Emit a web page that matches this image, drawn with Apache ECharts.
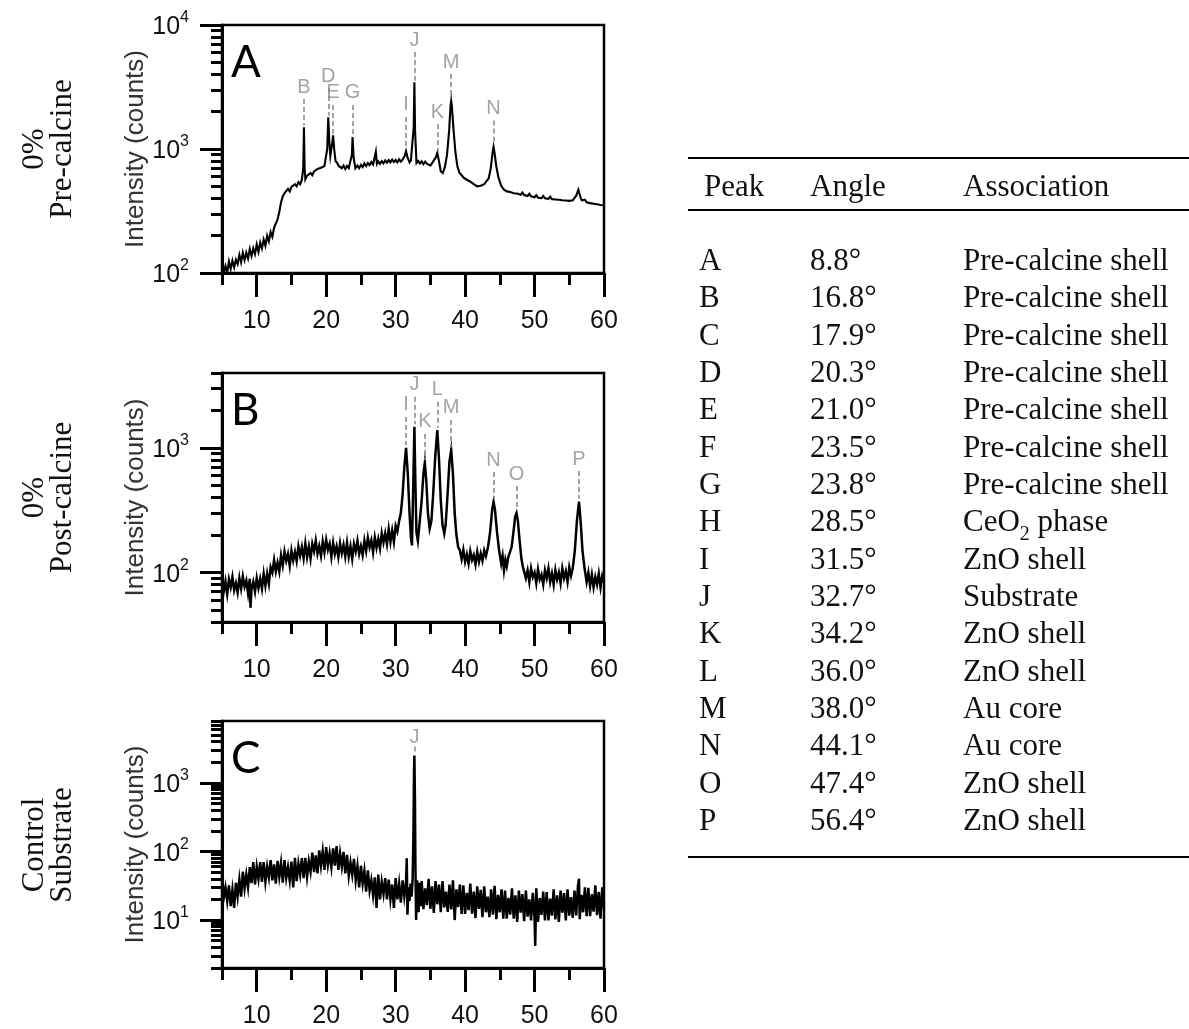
<!DOCTYPE html>
<html><head><meta charset="utf-8">
<script src="https://cdn.jsdelivr.net/npm/echarts@6/dist/echarts.min.js"></script>
<style>html,body{margin:0;padding:0;background:#fff}#c{width:1189px;height:1029px}</style>
</head><body><div id="c"></div>
<script>
// ---------- tick values ----------
const angleTicksMajor = [10, 20, 30, 40, 50, 60];
const angleTicksMinor = [5, 15, 25, 35, 45, 55];
const rangeA = [100, 10000];
const decadesA = [100, 1000, 10000];
const minorA = [200, 300, 400, 500, 600, 700, 800, 900, 2000, 3000, 4000, 5000, 6000, 7000, 8000, 9000];
const rangeB = [40, 4000];
const decadesB = [100, 1000];
const minorB = [40, 50, 60, 70, 80, 90, 200, 300, 400, 500, 600, 700, 800, 900, 2000, 3000, 4000];
const rangeC = [2, 8000];
const decadesC = [10, 100, 1000];
const minorC = [2, 3, 4, 5, 6, 7, 8, 9, 20, 30, 40, 50, 60, 70, 80, 90, 200, 300, 400, 500, 600, 700, 800, 900, 2000, 3000, 4000, 5000, 6000, 7000, 8000];

// ---------- panel A : 0% pre-calcine ----------
const dataA = [[5,112],[5.25,100],[5.5,114],[5.75,101],[6,124],[6.25,108],[6.5,126],[6.75,111],[7,128],[7.25,118],[7.5,140],[7.75,122],[8,146],[8.25,127],[8.5,146],[8.75,131],[9,156],[9.25,137],[9.5,158],[9.75,142],[10,170],[10.25,148],[10.5,176],[10.75,158],[11,186],[11.25,166],[11.5,200],[11.75,180],[12,214],[12.25,196],[12.5,232],[12.75,236],[13,270],[13.25,310],[13.5,372],[13.75,415],[14,440],[14.25,430],[14.5,478],[14.75,455],[15,495],[15.25,480],[15.5,520],[15.75,500],[16,540],[16.25,520],[16.5,565],[16.7,700],[16.8,1500],[16.9,700],[17,570],[17.25,610],[17.5,595],[17.75,640],[18,615],[18.25,660],[18.5,640],[18.75,690],[19,665],[19.25,705],[19.5,690],[19.75,730],[20,710],[20.15,1000],[20.3,1800],[20.45,1150],[20.6,880],[20.75,900],[20.9,1150],[21,1290],[21.15,1000],[21.35,800],[21.6,770],[21.8,730],[22,750],[22.25,700],[22.5,735],[22.75,690],[23,730],[23.25,700],[23.5,715],[23.7,900],[23.8,1250],[23.95,850],[24.2,700],[24.5,735],[24.75,700],[25,745],[25.25,715],[25.5,765],[25.75,730],[26,770],[26.25,740],[26.5,785],[26.75,750],[27,775],[27.15,950],[27.3,760],[27.5,795],[27.75,760],[28,800],[28.25,765],[28.5,810],[28.75,775],[29,815],[29.25,780],[29.5,820],[29.75,785],[30,815],[30.25,780],[30.5,825],[30.75,790],[31,820],[31.3,880],[31.5,960],[31.7,860],[32,780],[32.2,810],[32.4,790],[32.6,1500],[32.7,3450],[32.8,1400],[33,770],[33.25,800],[33.5,765],[33.75,795],[34,755],[34.25,790],[34.5,760],[34.75,775],[35,735],[35.25,770],[35.5,750],[35.8,860],[36,930],[36.2,820],[36.5,660],[36.8,640],[37.1,720],[37.4,900],[37.7,1400],[37.9,2200],[38,2450],[38.1,2200],[38.35,1400],[38.6,950],[38.9,720],[39.2,640],[39.5,615],[39.75,590],[40,575],[40.25,565],[40.5,555],[40.75,545],[41,530],[41.25,520],[41.5,525],[41.75,500],[42,495],[42.25,505],[42.5,500],[42.75,520],[43,520],[43.4,580],[43.7,700],[43.95,930],[44.1,1040],[44.25,920],[44.5,720],[44.8,590],[45.2,505],[45.6,470],[46,455],[46.25,470],[46.5,450],[46.75,462],[47,440],[47.25,455],[47.5,438],[47.75,450],[48,428],[48.25,445],[48.5,425],[48.75,440],[49,418],[49.25,435],[49.5,415],[49.75,430],[50,408],[50.25,424],[50.5,405],[50.75,420],[51,402],[51.25,418],[51.5,400],[51.75,414],[52,396],[52.25,412],[52.5,394],[52.75,408],[53,392],[53.25,406],[53.5,390],[53.75,402],[54,386],[54.25,400],[54.5,384],[54.75,396],[55,382],[55.25,394],[55.5,386],[55.75,400],[56,420],[56.3,470],[56.6,410],[56.8,385],[57,376],[57.25,390],[57.5,372],[57.75,384],[58,366],[58.25,378],[58.5,362],[58.75,374],[59,358],[59.25,370],[59.5,354],[59.75,366],[60,352]];
const peakLetterA = ['B','D','E','G','I','J','K','M','N'];
const peakAngleA = [16.8, 20.3, 21.0, 23.8, 31.5, 32.7, 36.0, 38.0, 44.1];
const peakLabelA = [3160, 3880, 2830, 2830, 2265, 7570, 1986, 5030, 2130];
const peakDashFromA = [2530, 3100, 2260, 2260, 1810, 6060, 1590, 4020, 1700];
const peakDashToA = [1550, 1850, 1330, 1300, 1000, 3550, 960, 2550, 1080];

// ---------- panel B : 0% post-calcine ----------
const dataB = [[5,91],[5.25,70],[5.5,85],[5.75,67],[6,88],[6.25,76],[6.5,92],[6.75,72],[7,82],[7.25,69],[7.5,90],[7.75,74],[8,93],[8.25,77],[8.5,86],[8.75,68],[9,89],[9.1,52],[9.25,73],[9.5,84],[9.75,70],[10,90],[10.25,75],[10.5,89],[10.75,74],[11,98],[11.25,78],[11.5,98],[11.75,81],[12,110],[12.25,100],[12.5,126],[12.75,102],[13,120],[13.25,102],[13.5,137],[13.75,114],[14,147],[14.25,124],[14.5,141],[14.75,113],[15,150],[15.25,125],[15.5,146],[15.75,123],[16,162],[16.25,136],[16.5,160],[16.75,130],[17,171],[17.25,133],[17.5,161],[17.75,129],[18,170],[18.25,148],[18.5,180],[18.75,141],[19,163],[19.25,136],[19.5,177],[19.75,145],[20,183],[20.25,152],[20.5,170],[20.75,133],[21,173],[21.25,141],[21.5,162],[21.75,133],[22,172],[22.25,143],[22.5,166],[22.75,134],[23,173],[23.25,134],[23.5,162],[23.75,129],[24,169],[24.25,147],[24.5,179],[24.75,141],[25,163],[25.25,138],[25.5,180],[25.75,149],[26,190],[26.25,159],[26.5,181],[26.75,145],[27,191],[27.25,158],[27.5,186],[27.75,156],[28,206],[28.25,174],[28.5,206],[28.75,169],[29,223],[29.25,176],[29.5,217],[29.75,176],[30,237],[30.25,214],[30.5,259],[30.75,300],[31,420],[31.25,700],[31.5,1000],[31.75,620],[32,300],[32.2,190],[32.35,165],[32.5,400],[32.7,1480],[32.85,500],[33,210],[33.2,180],[33.45,250],[33.75,380],[34,620],[34.2,760],[34.4,560],[34.65,300],[34.9,225],[35.15,260],[35.4,420],[35.7,850],[36,1390],[36.25,800],[36.5,380],[36.75,240],[37,205],[37.2,240],[37.45,400],[37.75,780],[38,960],[38.25,620],[38.5,300],[38.75,200],[39,160],[39.25,150],[39.5,128],[39.75,152],[40,122],[40.25,140],[40.5,118],[40.75,148],[41,126],[41.25,138],[41.5,116],[41.75,146],[42,122],[42.25,142],[42.5,124],[42.75,150],[43,135],[43.3,160],[43.6,210],[43.9,320],[44.1,370],[44.3,320],[44.6,210],[44.9,150],[45.2,118],[45.4,136],[45.6,104],[45.8,126],[46,112],[46.2,132],[46.45,128],[46.7,160],[47,220],[47.2,280],[47.4,300],[47.6,260],[47.85,180],[48.1,130],[48.3,112],[48.5,110],[48.75,90],[49,104],[49.25,84],[49.5,108],[49.75,92],[50,100],[50.25,82],[50.5,106],[50.75,88],[51,96],[51.25,80],[51.5,104],[51.75,90],[52,108],[52.25,84],[52.5,98],[52.75,80],[53,105],[53.25,88],[53.5,100],[53.75,82],[54,108],[54.25,90],[54.5,102],[54.75,84],[55,110],[55.25,94],[55.5,108],[55.8,150],[56.1,260],[56.4,370],[56.65,250],[56.9,150],[57.2,108],[57.5,84],[57.75,100],[58,78],[58.25,96],[58.5,76],[58.75,92],[59,80],[59.25,98],[59.5,76],[59.75,94],[60,84]];
const peakLetterB = ['I','J','K','L','M','N','O','P'];
const peakAngleB = [31.5, 32.7, 34.2, 36.0, 38.0, 44.1, 47.4, 56.4];
const peakLabelB = [2220, 3220, 1620, 2940, 2100, 800, 617, 815];
const peakDashFromB = [1776, 2576, 1296, 2350, 1680, 640, 494, 652];
const peakDashToB = [1050, 1550, 800, 1450, 1010, 390, 315, 390];

// ---------- panel C : control substrate ----------
const dataC = [[5,46],[5.25,21],[5.5,30],[5.75,19],[6,32],[6.25,16],[6.5,27.5],[6.75,15],[7,35],[7.25,22],[7.5,39],[7.75,22],[8,51],[8.25,29],[8.5,46],[8.75,30],[9,59],[9.25,34.5],[9.5,70],[9.75,33],[10,60],[10.25,40],[10.5,70],[10.75,36],[11,70],[11.25,36],[11.5,60],[11.75,42],[12,75],[12.25,38],[12.5,65],[12.75,34],[13,73],[13.25,43],[13.5,68],[13.75,35],[14,75],[14.25,41],[14.5,59],[14.75,38],[15,71],[15.25,30],[15.5,81],[15.75,37],[16,67],[16.25,46],[16.5,80],[16.75,41],[17,81],[17.25,43],[17.5,72],[17.75,51],[18,96],[18.25,50],[18.5,88],[18.75,48],[19,104],[19.25,62],[19.5,101],[19.75,54],[20,116],[20.25,64],[20.5,94],[20.75,59],[21,111],[21.25,62],[21.5,120],[21.75,54],[22,94],[22.25,60],[22.5,99],[22.75,48],[23,89],[23.25,44],[23.5,69],[23.75,46],[24,78],[24.25,38],[24.5,61],[24.75,30],[25,62],[25.25,34],[25.5,52],[25.75,26],[26,53],[26.25,27],[26.5,38],[26.75,23],[27,42],[27.25,15],[27.5,46],[27.75,20],[28,36],[28.25,24],[28.5,41],[28.75,20],[29,39],[29.25,20],[29.5,33],[29.75,15],[30,41],[30.25,20],[30.5,34],[30.75,18],[31,38],[31.25,22],[31.5,36],[31.6,80],[31.7,12],[31.85,30],[32,19],[32.15,34],[32.3,22],[32.45,40],[32.55,150],[32.65,1500],[32.7,2500],[32.78,600],[32.85,60],[32.95,10],[33.1,38],[33.3,13],[33.45,35],[33.6,16],[33.75,37],[34,14.4],[34.25,29],[34.5,16.5],[34.75,40],[35,14.6],[35.25,31],[35.5,12.7],[35.75,37],[36,17],[36.25,33],[36.5,13],[36.75,37],[37,15.3],[37.25,26],[37.5,13.2],[37.75,33],[38,14.3],[38.25,38],[38.5,10],[38.75,28],[39,15.5],[39.25,33],[39.5,12.3],[39.75,32],[40,12.3],[40.25,25],[40.5,14],[40.75,34],[41,12.4],[41.25,26],[41.5,10.7],[41.75,31],[42,14.6],[42.25,27.5],[42.5,11],[42.75,31],[43,13],[43.25,22],[43.5,11],[43.75,28],[44,12],[44.25,31.5],[44.5,10.3],[44.75,23.4],[45,13],[45.25,28],[45.5,10.5],[45.75,27],[46,10.5],[46.25,21],[46.5,12],[46.75,29],[47,10.5],[47.25,23],[47.5,9.4],[47.75,27],[48,12.8],[48.25,24],[48.5,9.6],[48.75,27],[49,11.2],[49.25,20],[49.5,9.9],[49.75,25],[50,10.7],[50.1,4.2],[50.25,29],[50.5,9.4],[50.75,21],[51,11.9],[51.25,26],[51.5,9.9],[51.75,25.6],[52,9.9],[52.25,20.6],[52.5,11.6],[52.75,28],[53,10.2],[53.25,23],[53.5,9.4],[53.75,27],[54,12.8],[54.25,24.7],[54.5,9.9],[54.75,28],[55,11.6],[55.25,21.6],[55.5,10.8],[55.75,27],[56,11.7],[56.25,31.5],[56.4,40],[56.5,10.3],[56.75,23.4],[57,13],[57.25,30],[57.5,11.4],[57.75,29.5],[58,11.4],[58.25,23.8],[58.5,13.3],[58.75,32],[59,11.8],[59.25,25.7],[59.5,10.5],[59.75,30],[60,14.3]];
const peakLetterC = ['J'];
const peakAngleC = [32.7];
const peakLabelC = [4600];
const peakDashFromC = [3400];
const peakDashToC = [2700];

// ---------- labels & table ----------
const panelLetters = ['A', 'B', 'C'];
const rowLabels = ['0%\nPre-calcine', '0%\nPost-calcine', 'Control\nSubstrate'];
const yAxisTitle = 'Intensity (counts)';
const tableHeader = ['Peak', 'Angle', 'Association'];
const tablePeak = ['A','B','C','D','E','F','G','H','I','J','K','L','M','N','O','P'];
const tableAngle = ['8.8°','16.8°','17.9°','20.3°','21.0°','23.5°','23.8°','28.5°','31.5°','32.7°','34.2°','36.0°','38.0°','44.1°','47.4°','56.4°'];
const tableAssoc = ['Pre-calcine shell','Pre-calcine shell','Pre-calcine shell','Pre-calcine shell','Pre-calcine shell','Pre-calcine shell','Pre-calcine shell','CeO{sub|2} phase','ZnO shell','Substrate','ZnO shell','ZnO shell','Au core','Au core','ZnO shell','ZnO shell'];

// ---------- build ----------
const SANS = 'Liberation Sans, Arial, sans-serif';
const SERIF = '"Liberation Serif", "Times New Roman", serif';
const panels = [
  {data: dataA, range: rangeA, major: decadesA, minor: minorA, L: peakLetterA, X: peakAngleA, Y: peakLabelA, F: peakDashFromA, T: peakDashToA, top: 25, h: 248, lw: 2.1},
  {data: dataB, range: rangeB, major: decadesB, minor: minorB, L: peakLetterB, X: peakAngleB, Y: peakLabelB, F: peakDashFromB, T: peakDashToB, top: 373, h: 249, lw: 2.5},
  {data: dataC, range: rangeC, major: decadesC, minor: minorC, L: peakLetterC, X: peakAngleC, Y: peakLabelC, F: peakDashFromC, T: peakDashToC, top: 721, h: 248, lw: 2.5}
];
const axisLineStyle = {color: '#000', width: 3};
const tickStyle = {color: '#000', width: 3};
const grid = [], xAxis = [], yAxis = [], series = [], graphic = [];
panels.forEach((p, i) => {
  grid.push({left: 222, top: p.top, width: 382, height: p.h, show: true, borderColor: '#000', borderWidth: 2.5, backgroundColor: 'transparent'});
  xAxis.push({gridIndex: i, type: 'value', position: 'bottom', min: 5, max: 60,
    axisLine: {show: true, onZero: false, lineStyle: axisLineStyle},
    axisTick: {show: true, customValues: angleTicksMajor, length: 24, lineStyle: tickStyle},
    axisLabel: {show: true, customValues: angleTicksMajor, margin: 36, fontSize: 25, color: '#111', fontFamily: SANS},
    splitLine: {show: false}});
  xAxis.push({gridIndex: i, type: 'value', position: 'bottom', min: 5, max: 60,
    axisLine: {show: false, onZero: false},
    axisTick: {show: true, customValues: angleTicksMinor, length: 12, lineStyle: tickStyle},
    axisLabel: {show: false}, splitLine: {show: false}});
  yAxis.push({gridIndex: i, type: 'log', logBase: 10, position: 'left', min: p.range[0], max: p.range[1],
    name: yAxisTitle, nameLocation: 'middle', nameGap: 71,
    nameTextStyle: {fontSize: 26, color: '#333', fontFamily: SANS},
    axisLine: {show: true, lineStyle: axisLineStyle},
    axisTick: {show: true, customValues: p.major, length: 22, lineStyle: tickStyle},
    axisLabel: {show: true, customValues: p.major, margin: 33, color: '#111', fontFamily: SANS,
      formatter: v => '{b|10}{s|' + Math.round(Math.log10(v)) + '}',
      rich: {b: {fontSize: 25, lineHeight: 30, verticalAlign: 'bottom', fontFamily: SANS, color: '#111'},
             s: {fontSize: 16, lineHeight: 18, verticalAlign: 'top', fontFamily: SANS, color: '#111'}}},
    splitLine: {show: false}});
  yAxis.push({gridIndex: i, type: 'log', logBase: 10, position: 'left', min: p.range[0], max: p.range[1],
    axisLine: {show: false},
    axisTick: {show: true, customValues: p.minor, length: 11, lineStyle: tickStyle},
    axisLabel: {show: false}, splitLine: {show: false}});
  series.push({type: 'line', xAxisIndex: 2 * i, yAxisIndex: 2 * i, data: p.data, showSymbol: false, symbol: 'none',
    lineStyle: {color: '#000', width: p.lw, join: 'miter'}, clip: true, silent: true,
    markLine: {silent: true, symbol: ['none', 'none'], animation: false,
      lineStyle: {color: '#8c8c8c', width: 1.6, type: [5, 3]}, label: {show: false},
      data: p.L.map((l, k) => [{coord: [p.X[k], p.F[k]]}, {coord: [p.X[k], p.T[k]]}])}});
  series.push({type: 'scatter', xAxisIndex: 2 * i, yAxisIndex: 2 * i, symbolSize: 1, silent: true,
    itemStyle: {color: 'transparent'},
    label: {show: true, position: 'inside', formatter: q => q.data[2], color: '#8c8c8c', fontSize: 20, fontFamily: SANS},
    data: p.L.map((l, k) => [p.X[k], p.Y[k], l])});
  graphic.push({type: 'text', x: 231, y: p.top + 38, style: {text: panelLetters[i], font: '44px Lato, "Open Sans", sans-serif', fill: '#000', align: 'left', verticalAlign: 'middle'}});
  graphic.push({type: 'text', x: 49, y: p.top + p.h / 2, rotation: Math.PI / 2,
    style: {text: rowLabels[i], font: '31px ' + SERIF, fill: '#111', align: 'center', verticalAlign: 'middle', lineHeight: 28}});
});
// table
const ruleStyle = {stroke: '#000', lineWidth: 2};
graphic.push({type: 'line', shape: {x1: 688, y1: 158, x2: 1189, y2: 158}, style: ruleStyle});
graphic.push({type: 'line', shape: {x1: 688, y1: 210, x2: 1189, y2: 210}, style: ruleStyle});
graphic.push({type: 'line', shape: {x1: 688, y1: 857, x2: 1189, y2: 857}, style: ruleStyle});
const colX = [704, 810, 963];
const tFont = '31px ' + SERIF;
tableHeader.forEach((h, c) => graphic.push({type: 'text', x: colX[c], y: 188, style: {text: h, font: tFont, fill: '#111', align: 'left', verticalAlign: 'middle'}}));
tablePeak.forEach((pk, r) => {
  const y = 262 + r * 37.33;
  graphic.push({type: 'text', x: colX[0] - 5, y: y, style: {text: pk, font: tFont, fill: '#111', align: 'left', verticalAlign: 'middle'}});
  graphic.push({type: 'text', x: colX[1], y: y, style: {text: tableAngle[r], font: tFont, fill: '#111', align: 'left', verticalAlign: 'middle'}});
  graphic.push({type: 'text', x: colX[2], y: y, style: {text: tableAssoc[r], font: tFont, fill: '#111', align: 'left', verticalAlign: 'middle',
    rich: {sub: {fontSize: 20, fontFamily: SERIF, verticalAlign: 'bottom', padding: [0, 0, -6, 0], fill: '#111'}}}});
});

const chart = echarts.init(document.getElementById('c'), null, {renderer: 'canvas'});
chart.setOption({backgroundColor: '#fff', animation: false, grid, xAxis, yAxis, series, graphic});
</script></body></html>
